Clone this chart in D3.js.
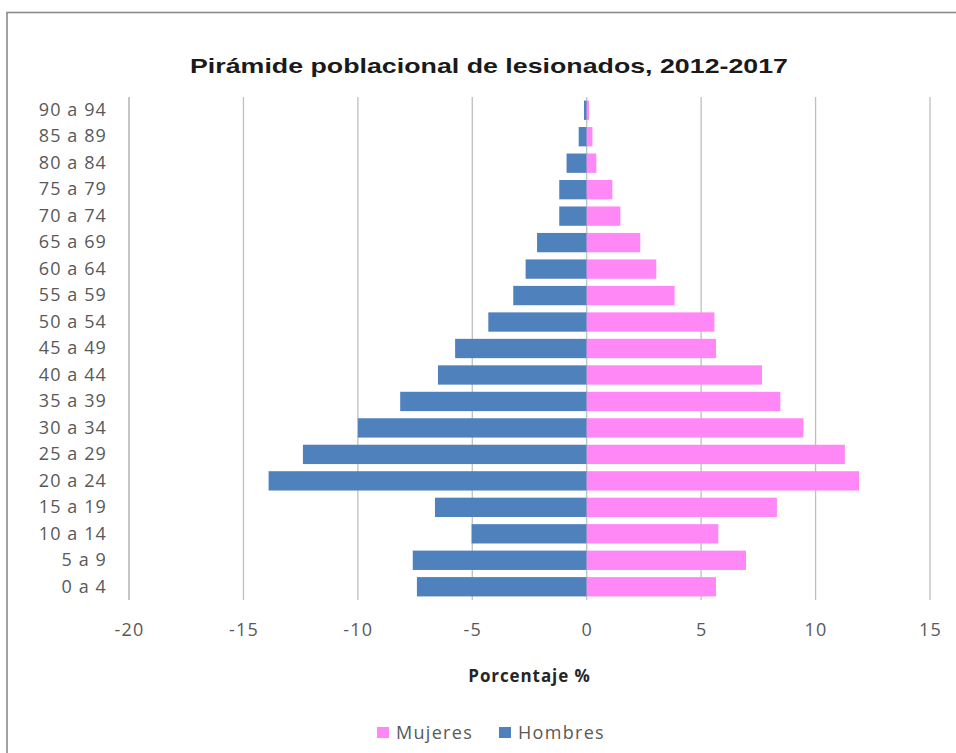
<!DOCTYPE html>
<html>
<head>
<meta charset="utf-8">
<script src="https://cdn.jsdelivr.net/npm/d3@7"></script>
<style>
  body { margin: 0; background: #fff; }
  svg { display: block; }
</style>
</head>
<body>
<svg width="956" height="753"></svg>
<script>
// datos (porcentaje de lesionados por grupo de edad)
var grupos = ["0 a 4", "5 a 9", "10 a 14", "15 a 19", "20 a 24", "25 a 29", "30 a 34",
              "35 a 39", "40 a 44", "45 a 49", "50 a 54", "55 a 59", "60 a 64", "65 a 69",
              "70 a 74", "75 a 79", "80 a 84", "85 a 89", "90 a 94"];
var hombres = [7.42, 7.6, 5.03, 6.63, 13.9, 12.4, 10.0, 8.15, 6.5, 5.75, 4.3, 3.21, 2.67, 2.17,
               1.2, 1.2, 0.88, 0.35, 0.12];
var mujeres = [5.65, 6.96, 5.75, 8.31, 11.9, 11.28, 9.47, 8.46, 7.66, 5.65, 5.58, 3.84, 3.04, 2.34,
               1.47, 1.12, 0.42, 0.25, 0.1];
var xTicks = [-20, -15, -10, -5, 0, 5, 10, 15];
var series = ["Mujeres", "Hombres"];

var svg = d3.select("svg");
var width = 956, height = 753;

var colorH = "#4f81bd";
var colorM = "#ff88f6";
var textColor = "#595959";

// marco del gráfico
svg.append("rect")
  .attr("x", 7).attr("y", 12.5)
  .attr("width", 1000).attr("height", 800)
  .attr("fill", "#fff")
  .attr("stroke", "#8a8a8a")
  .attr("stroke-width", 1.6);

var plot = { left: 129, right: 930, top: 97, bottom: 600 };

var x = d3.scaleLinear().domain([-20, 15]).range([plot.left, plot.right]);
var y = d3.scaleBand()
  .domain(grupos.slice().reverse())
  .range([plot.top, plot.bottom])
  .paddingInner(0.27)
  .paddingOuter(0.135);

// líneas de división verticales
svg.append("g")
  .selectAll("line")
  .data(xTicks)
  .enter()
  .append("line")
  .attr("x1", function(d) { return x(d); })
  .attr("x2", function(d) { return x(d); })
  .attr("y1", plot.top)
  .attr("y2", plot.bottom)
  .attr("stroke", function(d) { return d == -20 ? "#a6a6a6" : "#bfbfbf"; })
  .attr("stroke-width", 1.3);

var rows = grupos.map(function(g, i) { return { g: g, h: hombres[i], m: mujeres[i] }; });

// barras hombres (a la izquierda)
svg.append("g")
  .selectAll("rect")
  .data(rows)
  .enter()
  .append("rect")
  .attr("x", function(d) { return x(-d.h); })
  .attr("y", function(d) { return y(d.g); })
  .attr("width", function(d) { return x(0) - x(-d.h); })
  .attr("height", y.bandwidth())
  .attr("fill", colorH);

// barras mujeres (a la derecha)
svg.append("g")
  .selectAll("rect")
  .data(rows)
  .enter()
  .append("rect")
  .attr("x", x(0))
  .attr("y", function(d) { return y(d.g); })
  .attr("width", function(d) { return x(d.m) - x(0); })
  .attr("height", y.bandwidth())
  .attr("fill", colorM);

// etiquetas de grupos de edad
var yAxis = svg.append("g")
  .attr("transform", "translate(" + (plot.left - 22) + ",0)")
  .call(d3.axisLeft(y).tickSize(0).tickPadding(0));
yAxis.select(".domain").remove();
yAxis.selectAll("text")
  .attr("fill", textColor)
  .style("font-family", "'Open Sans', sans-serif")
  .style("font-size", "18px")
  .style("letter-spacing", "1.1px");

// eje x
var xAxis = svg.append("g")
  .attr("transform", "translate(0," + (plot.bottom + 22) + ")")
  .call(d3.axisBottom(x).tickValues(xTicks).tickFormat(function(d) { return String(d); })
    .tickSize(0).tickPadding(0));
xAxis.select(".domain").remove();
xAxis.selectAll("text")
  .attr("fill", textColor)
  .attr("dy", "0.75em")
  .style("font-family", "'Open Sans', sans-serif")
  .style("font-size", "18px")
  .style("letter-spacing", "1.2px");

// título
svg.append("text")
  .attr("x", 489)
  .attr("y", 73)
  .attr("text-anchor", "middle")
  .attr("textLength", 598)
  .attr("lengthAdjust", "spacingAndGlyphs")
  .attr("fill", "#1a1a1a")
  .style("font-family", "'Liberation Sans', Arial, sans-serif")
  .style("font-weight", "bold")
  .style("font-size", "21px")
  .text("Pirámide poblacional de lesionados, 2012-2017");

// título eje x
svg.append("text")
  .attr("x", (plot.left + plot.right) / 2)
  .attr("y", 682)
  .attr("text-anchor", "middle")
  .attr("fill", "#262626")
  .style("font-family", "'Open Sans', sans-serif")
  .style("font-weight", "bold")
  .style("font-size", "17px")
  .style("letter-spacing", "0.9px")
  .text("Porcentaje %");

// leyenda
var legendColor = d3.scaleOrdinal().domain(series).range([colorM, colorH]);
var legendX = [377, 499];
var legend = svg.append("g")
  .selectAll("g")
  .data(series)
  .enter()
  .append("g")
  .attr("transform", function(d, i) { return "translate(" + legendX[i] + ",727)"; });
legend.append("rect")
  .attr("width", 12).attr("height", 11)
  .attr("fill", function(d) { return legendColor(d); });
legend.append("text")
  .attr("x", 19)
  .attr("y", 12)
  .attr("fill", textColor)
  .style("font-family", "'Open Sans', sans-serif")
  .style("font-size", "18px")
  .style("letter-spacing", "1.3px")
  .text(function(d) { return d; });
</script>
</body>
</html>
